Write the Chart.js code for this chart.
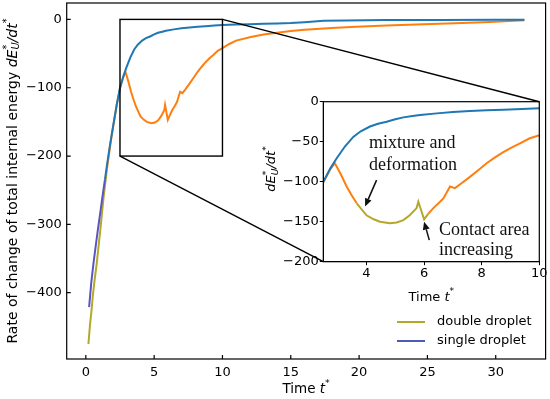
<!DOCTYPE html>
<html>
<head>
<meta charset="utf-8">
<script src="https://cdn.jsdelivr.net/npm/chart.js@4.4.1/dist/chart.umd.min.js"></script>
<style>
  body { margin: 0; background: #fff; }
  #wrap { position: relative; width: 550px; height: 399px; }
  #mainChart { position: absolute; left: 0; top: 0; }
  #insetChart { position: absolute; left: 255px; top: 90px; }
</style>
</head>
<body>
<div id="wrap">
  <canvas id="mainChart" width="550" height="399"></canvas>
  <canvas id="insetChart" width="295" height="215"></canvas>
</div>
<script>
// single droplet: time and dE/dt
var singleT = [0.24, 0.4, 0.56, 0.72, 0.88, 1.05, 1.2, 1.4, 1.6, 1.8, 2.0, 2.25, 2.5, 2.75, 2.96, 3.25, 3.54, 3.8, 4.12, 4.4, 4.7, 5.0, 5.28, 5.6, 5.86, 6.44, 7.0, 7.59, 8.17, 8.75, 9.4, 10, 11, 12, 13, 14, 15, 16, 17.4, 19, 22, 26, 30, 32.1];
var singleE = [-421, -385, -357, -332, -308, -284, -262, -234, -206, -180, -156, -126, -100, -83, -71, -56, -44, -37, -31, -27.5, -25, -22, -19.6, -18, -16.7, -14.6, -13, -11.7, -10.8, -10, -9, -8.3, -7.6, -7, -6.5, -6, -5.3, -4, -2, -1.5, -1, -0.8, -0.6, -0.5];

// double droplet
var doubleT = [0.19, 0.3, 0.42, 0.51, 0.65, 0.8, 1.05, 1.29, 1.55, 1.8, 2.0, 2.25, 2.5, 2.75, 2.9, 3.1, 3.31, 3.5, 3.66, 4.0, 4.25, 4.47, 4.81, 5.05, 5.28, 5.5, 5.74, 5.8, 5.9, 6.0, 6.15, 6.32, 6.5, 6.67, 6.9, 7.07, 7.3, 7.59, 7.9, 8.17, 8.45, 8.75, 9.05, 9.33, 9.65, 10, 10.5, 11, 12, 13, 14, 15, 16, 18, 19.8, 22, 24.7, 27, 29.6, 31, 32.1];
var doubleE = [-475, -448, -425, -405, -380, -357, -310, -262, -218, -182, -157, -127, -101, -84, -77, -90, -106, -118, -127, -142, -147, -150, -152, -151, -148, -142, -133, -125, -136, -147, -140, -133, -127, -121, -106, -108, -102, -94, -85, -77, -70, -63, -57, -52, -46, -42, -36, -31, -26, -22, -19.5, -17, -15, -12.5, -10.8, -9, -7, -5.5, -3.7, -2.5, -1.2];

var xTicksMain = [0, 5, 10, 15, 20, 25, 30];
var yTicksMain = [0, -100, -200, -300, -400];

var blue = '#1f77b4';
var orange = '#ff7f0e';
var olive = '#b3a82a';
var purple = '#5a55c0';

function pts(t, e) {
  return t.map(function (v, i) { return { x: v, y: e[i] }; });
}
function minus(v) { return v < 0 ? '\u2212' + Math.abs(v) : '' + v; }

var tickFont = { family: 'DejaVu Sans', size: 13 };

// text with italic / sub / sup pieces
function drawRich(ctx, parts, x, y, size, rotate) {
  var fam = 'DejaVu Sans';
  function font(p) {
    var s = (p.sub || p.sup) ? size * 0.7 : size;
    return (p.it ? 'italic ' : '') + s + 'px "' + fam + '"';
  }
  var total = 0, held = 0;
  parts.forEach(function (p) {
    ctx.font = font(p);
    var w = ctx.measureText(p.t).width;
    if (p.stack) { held = w; return; }
    total += Math.max(w, held); held = 0;
  });
  ctx.save();
  ctx.translate(x, y);
  if (rotate) ctx.rotate(-Math.PI / 2);
  ctx.fillStyle = '#000';
  ctx.textBaseline = 'middle';
  ctx.textAlign = 'left';
  var cx = -total / 2; held = 0;
  parts.forEach(function (p) {
    ctx.font = font(p);
    var w = ctx.measureText(p.t).width;
    var dy = p.sup ? -size * 0.42 : (p.sub ? size * 0.25 : 0);
    ctx.fillText(p.t, cx, dy);
    if (p.stack) { held = w; return; }
    cx += Math.max(w, held); held = 0;
  });
  ctx.restore();
}

var yTitleParts = [
  { t: 'Rate of change of total internal energy ' },
  { t: 'dE', it: 1 }, { t: '*', sup: 1, stack: 1 }, { t: 'U', sub: 1, it: 1 },
  { t: '/dt', it: 1 }, { t: '*', sup: 1 }
];
var insetYParts = [
  { t: 'dE', it: 1 }, { t: '*', sup: 1, stack: 1 }, { t: 'U', sub: 1, it: 1 },
  { t: '/dt', it: 1 }, { t: '*', sup: 1 }
];
var xTitleParts = [{ t: 'Time ' }, { t: 't', it: 1 }, { t: '*', sup: 1 }];

// annotation text and arrows for the inset (data coords)
var noteLines = [
  { text: 'mixture and', x: 4.09, y: -58 },
  { text: 'deformation', x: 4.09, y: -85 },
  { text: 'Contact area', x: 6.52, y: -167 },
  { text: 'increasing', x: 6.52, y: -192 }
];
var noteArrows = [
  { from: [4.35, -98], to: [3.95, -131] },
  { from: [6.18, -173], to: [6.0, -150] }
];

function noPad(s) { s.paddingTop = 0; s.paddingBottom = 0; s.paddingLeft = 0; s.paddingRight = 0; }

var insetChart = new Chart(document.getElementById('insetChart'), {
  type: 'line',
  data: {
    datasets: [{
      data: pts(singleT, singleE),
      borderColor: blue, borderWidth: 2, pointRadius: 0, order: 0
    }, {
      data: pts(doubleT, doubleE),
      borderColor: orange, borderWidth: 2, pointRadius: 0, order: 1,
      segment: {
        borderColor: function (c) {
          var x = c.p0.parsed.x;
          return (x >= 3.6 && x < 6.05) ? olive : undefined;
        }
      }
    }]
  },
  options: {
    responsive: false,
    animation: false,
    events: [],
    layout: { padding: { top: 11.7, right: 10.7, left: 0, bottom: 0 } },
    plugins: { legend: { display: false }, tooltip: { enabled: false } },
    scales: {
      x: {
        type: 'linear', min: 2.5, max: 10,
        ticks: { stepSize: 2, includeBounds: false, font: tickFont, color: '#000', padding: 1, maxRotation: 0 },
        grid: { display: true, drawOnChartArea: false, drawTicks: true, tickLength: 3.5, color: '#000' },
        border: { display: true, color: '#000', width: 1 },
        afterFit: function (s) { s.height = 43.3; noPad(s); }
      },
      y: {
        type: 'linear', min: -200, max: 0,
        ticks: { stepSize: 50, includeBounds: false, font: tickFont, color: '#000', padding: 1, callback: minus },
        grid: { display: true, drawOnChartArea: false, drawTicks: true, tickLength: 3.5, color: '#000' },
        border: { display: true, color: '#000', width: 1 },
        afterFit: function (s) { s.width = 68.3; noPad(s); }
      }
    }
  },
  plugins: [{
    id: 'insetDeco',
    afterDraw: function (chart) {
      var ctx = chart.ctx, a = chart.chartArea;
      var sx = chart.scales.x, sy = chart.scales.y;
      ctx.save();
      ctx.strokeStyle = '#000';
      ctx.lineWidth = 1.2;
      ctx.strokeRect(a.left, a.top, a.right - a.left, a.bottom - a.top);

      ctx.fillStyle = '#111';
      ctx.font = '18px "Liberation Serif"';
      ctx.textAlign = 'left';
      ctx.textBaseline = 'alphabetic';
      noteLines.forEach(function (n) {
        ctx.fillText(n.text, sx.getPixelForValue(n.x), sy.getPixelForValue(n.y));
      });

      noteArrows.forEach(function (ar) {
        var x0 = sx.getPixelForValue(ar.from[0]), y0 = sy.getPixelForValue(ar.from[1]);
        var x1 = sx.getPixelForValue(ar.to[0]), y1 = sy.getPixelForValue(ar.to[1]);
        var ang = Math.atan2(y1 - y0, x1 - x0);
        var hl = 8, hw = 3.5;
        var bx = x1 - hl * Math.cos(ang), by = y1 - hl * Math.sin(ang);
        ctx.strokeStyle = '#111';
        ctx.lineWidth = 1.5;
        ctx.beginPath(); ctx.moveTo(x0, y0); ctx.lineTo(bx, by); ctx.stroke();
        ctx.beginPath();
        ctx.moveTo(x1, y1);
        ctx.lineTo(bx + hw * Math.sin(ang), by - hw * Math.cos(ang));
        ctx.lineTo(bx - hw * Math.sin(ang), by + hw * Math.cos(ang));
        ctx.closePath();
        ctx.fillStyle = '#111';
        ctx.fill();
      });
      ctx.restore();

      drawRich(ctx, insetYParts, 17, 79, 13, true);
      drawRich(ctx, xTitleParts, (a.left + a.right) / 2, 207.5, 13, false);
    }
  }]
});

var insetOff = { x: 255, y: 90 };

var legendItems = [
  { label: 'double droplet', color: olive },
  { label: 'single droplet', color: '#4c5cb4' }
];

var mainChart = new Chart(document.getElementById('mainChart'), {
  type: 'line',
  data: {
    datasets: [{
      label: 'single droplet',
      data: pts(singleT, singleE),
      borderColor: blue, borderWidth: 2, pointRadius: 0, order: 0,
      segment: {
        borderColor: function (c) { return c.p0.parsed.x < 1.4 ? purple : undefined; }
      }
    }, {
      label: 'double droplet',
      data: pts(doubleT, doubleE),
      borderColor: orange, borderWidth: 2, pointRadius: 0, order: 1,
      segment: {
        borderColor: function (c) { return c.p0.parsed.x < 1.3 ? olive : undefined; }
      }
    }]
  },
  options: {
    responsive: false,
    animation: false,
    events: [],
    layout: { padding: { top: 3, right: 4.4, left: 0, bottom: 0 } },
    plugins: { legend: { display: false }, tooltip: { enabled: false } },
    scales: {
      x: {
        type: 'linear', min: -1.4, max: 33.65,
        afterBuildTicks: function (s) { s.ticks = xTicksMain.map(function (v) { return { value: v }; }); },
        ticks: { font: tickFont, color: '#000', padding: 6, maxRotation: 0 },
        grid: { display: false, drawTicks: false },
        border: { display: false },
        afterFit: function (s) { s.height = 40; noPad(s); }
      },
      y: {
        type: 'linear', min: -497, max: 24,
        afterBuildTicks: function (s) { s.ticks = yTicksMain.map(function (v) { return { value: v }; }); },
        ticks: { font: tickFont, color: '#000', padding: 5, callback: minus },
        grid: { display: false, drawTicks: false },
        border: { display: false },
        afterFit: function (s) { s.width = 66.7; noPad(s); }
      }
    }
  },
  plugins: [{
    id: 'mainDeco',
    afterDraw: function (chart) {
      var ctx = chart.ctx, a = chart.chartArea;
      var sx = chart.scales.x, sy = chart.scales.y;
      ctx.save();
      ctx.strokeStyle = '#000';
      ctx.lineWidth = 1.2;
      ctx.strokeRect(a.left, a.top, a.right - a.left, a.bottom - a.top);

      // inward tick marks
      ctx.beginPath();
      xTicksMain.forEach(function (v) {
        var px = sx.getPixelForValue(v);
        ctx.moveTo(px, a.bottom); ctx.lineTo(px, a.bottom - 4);
      });
      yTicksMain.forEach(function (v) {
        var py = sy.getPixelForValue(v);
        ctx.moveTo(a.left, py); ctx.lineTo(a.left + 4, py);
      });
      ctx.stroke();

      // zoom box and connectors
      var bx0 = sx.getPixelForValue(2.5), bx1 = sx.getPixelForValue(10);
      var by0 = sy.getPixelForValue(0), by1 = sy.getPixelForValue(-200);
      ctx.lineWidth = 1.4;
      ctx.strokeRect(bx0, by0, bx1 - bx0, by1 - by0);
      var ia = insetChart.chartArea;
      ctx.beginPath();
      ctx.moveTo(bx1, by0); ctx.lineTo(ia.right + insetOff.x, ia.top + insetOff.y);
      ctx.moveTo(bx0, by1); ctx.lineTo(ia.left + insetOff.x, ia.bottom + insetOff.y);
      ctx.stroke();

      // legend
      ctx.font = '13px "DejaVu Sans"';
      ctx.textBaseline = 'middle';
      ctx.textAlign = 'left';
      legendItems.forEach(function (it, i) {
        var y = a.bottom - 37 + i * 19;
        ctx.strokeStyle = it.color;
        ctx.lineWidth = 2;
        ctx.beginPath(); ctx.moveTo(a.right - 148.6, y); ctx.lineTo(a.right - 120.6, y); ctx.stroke();
        ctx.fillStyle = '#000';
        ctx.fillText(it.label, a.right - 108.6, y);
      });
      ctx.restore();

      drawRich(ctx, yTitleParts, 13, (a.top + a.bottom) / 2, 14, true);
      drawRich(ctx, xTitleParts, (a.left + a.right) / 2, 389, 13.5, false);
    }
  }]
});
</script>
</body>
</html>
